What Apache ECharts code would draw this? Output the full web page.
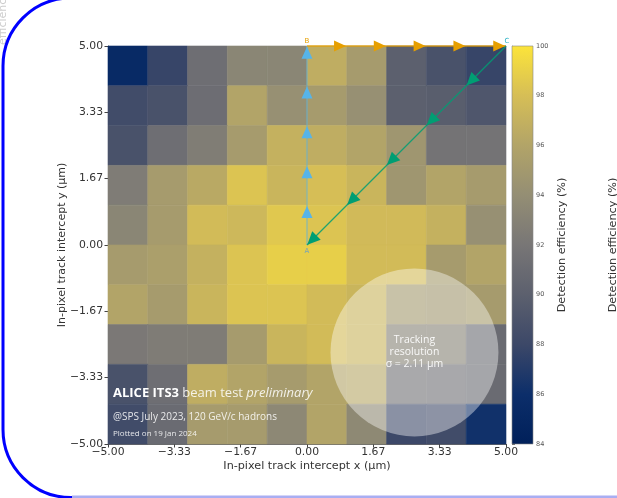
<!DOCTYPE html>
<html><head><meta charset="utf-8">
<script src="https://cdn.jsdelivr.net/npm/echarts@6/dist/echarts.min.js"></script>
<style>html,body{margin:0;padding:0;background:#fff}#c{width:617px;height:498px}</style>
</head><body><div id="c"></div>
<script>
// ---- data ----
const xCenters = [-4.5, -3.5, -2.5, -1.5, -0.5, 0.5, 1.5, 2.5, 3.5, 4.5];
const yCenters = [4.5, 3.5, 2.5, 1.5, 0.5, -0.5, -1.5, -2.5, -3.5, -4.5];
// rows from top (y = 4.5) to bottom (y = -4.5), columns left to right
const efficiency = [
  [85.4, 87.8, 91.3, 93.3, 93.3, 96.7, 95.2, 90.0, 88.8, 87.8],
  [88.3, 88.8, 91.2, 96.0, 94.2, 95.2, 94.2, 90.0, 89.8, 89.2],
  [88.8, 91.3, 92.6, 95.2, 97.0, 96.7, 96.0, 94.7, 91.7, 91.7],
  [92.5, 95.2, 96.4, 98.3, 97.3, 98.0, 97.3, 94.7, 96.0, 95.2],
  [93.3, 95.2, 97.8, 97.5, 98.5, 98.3, 97.7, 97.7, 97.0, 94.2],
  [95.2, 95.5, 97.0, 98.3, 98.9, 98.9, 97.8, 97.8, 95.2, 96.0],
  [96.0, 95.2, 97.3, 98.3, 98.3, 97.8, 97.3, 95.0, 94.8, 95.2],
  [92.2, 92.5, 92.5, 95.2, 97.3, 97.8, 97.3, 93.0, 93.0, 91.0],
  [88.8, 91.3, 96.7, 96.0, 95.2, 96.0, 96.2, 91.5, 91.3, 91.0],
  [88.3, 91.0, 95.2, 95.2, 93.5, 96.0, 93.6, 88.0, 88.3, 86.2]
];
const axisMin = -5, axisMax = 5, axisInterval = 10 / 6;
const effMin = 84, effMax = 100, effInterval = 2;
// colour ramp (cividis-like) sampled at 84, 86, ..., 100
const colorRamp = ['#00205a', '#0c2e6a', '#3c4868', '#5c606e', '#787676', '#948e74', '#b2a468', '#d6be56', '#fce43a'];
const pointA = [0, 0], pointB = [0, 5], pointC = [5, 5];
const arrowStepsAB = [1, 2, 3, 4, 5];   // y of arrow tips on A->B (x = 0)
const arrowStepsBC = [1, 2, 3, 4, 5];   // x of arrow tips on B->C (y = 5)
const arrowStepsCA = [4, 3, 2, 1, 0];   // x = y of arrow tips on C->A
const pointLabels = [['A', 0, 0], ['B', 0, 5], ['C', 5, 5]];
const sigma = 2.11;
const circleCenter = [2.7, -2.7];
const titleX = 'In-pixel track intercept x (μm)';
const titleY = 'In-pixel track intercept y (μm)';
const cbTitle = 'Detection efficiency (%)';

// ---- build ----
const heatData = [];
yCenters.forEach((y, r) => xCenters.forEach((x, c) => heatData.push([x, y, efficiency[r][c]])));
const head = 0.17; // half arrow-head length in data units
const fmt = v => { if (Math.abs(v) < 1e-9) v = 0; return v.toFixed(2).replace('-', '\u2212'); };
const axFont = 'DejaVu Sans';

const chart = echarts.init(document.getElementById('c'), null, {renderer: 'canvas'});
const labelColors = {A: '#78a4b8', B: '#e69f00', C: '#2ab0c4'};
const labelOffsets = {A: [0, 6], B: [0, -5], C: [1, -5]};

chart.setOption({
  animation: false,
  backgroundColor: '#fff',
  grid: [
    {left: 108, top: 46, width: 398, height: 398},
    {left: 512, top: 46, width: 21, height: 398}
  ],
  xAxis: [
    {gridIndex: 0, type: 'value', min: axisMin, max: axisMax, interval: axisInterval,
     splitLine: {show: false},
     axisLine: {show: true, onZero: false, lineStyle: {color: '#444', width: 0.8}},
     axisTick: {show: true, length: 3.5, lineStyle: {color: '#444'}},
     axisLabel: {formatter: fmt, fontSize: 10.8, color: '#333', fontFamily: axFont, margin: 3, showMinLabel: true, showMaxLabel: true}},
    {gridIndex: 1, type: 'value', min: 0, max: 1, show: false}
  ],
  yAxis: [
    {gridIndex: 0, type: 'value', min: axisMin, max: axisMax, interval: axisInterval,
     splitLine: {show: false},
     axisLine: {show: true, onZero: false, lineStyle: {color: '#444', width: 0.8}},
     axisTick: {show: true, length: 3.5, lineStyle: {color: '#444'}},
     axisLabel: {formatter: fmt, fontSize: 10.8, color: '#333', fontFamily: axFont, margin: 5, showMinLabel: true, showMaxLabel: true}},
    {gridIndex: 1, type: 'value', min: effMin, max: effMax, interval: effInterval, position: 'right',
     splitLine: {show: false},
     axisLine: {show: true, lineStyle: {color: '#777', width: 0.6}},
     axisTick: {show: true, length: 3, lineStyle: {color: '#666'}},
     axisLabel: {fontSize: 6.5, color: '#555', fontFamily: axFont, margin: 3}}
  ],
  visualMap: {type: 'continuous', show: false, min: effMin, max: effMax, dimension: 2, seriesIndex: 0,
              inRange: {color: colorRamp}},
  series: [
    {type: 'custom', xAxisIndex: 0, yAxisIndex: 0, data: heatData, encode: {x: 0, y: 1}, z: 2,
     renderItem: (params, api) => {
       const x = api.value(0), y = api.value(1);
       const p0 = api.coord([x - 0.5, y + 0.5]), p1 = api.coord([x + 0.5, y - 0.5]);
       const col = api.visual('color');
       return {type: 'rect', shape: {x: p0[0], y: p0[1], width: p1[0] - p0[0], height: p1[1] - p0[1]},
               style: {fill: col, stroke: col, lineWidth: 0.6}};
     }},
    {type: 'custom', xAxisIndex: 0, yAxisIndex: 0, data: [[circleCenter[0], circleCenter[1], sigma]], z: 3, silent: true,
     encode: {x: 0, y: 1},
     renderItem: (params, api) => {
       const c = api.coord([api.value(0), api.value(1)]);
       const r = api.size([api.value(2), api.value(2)])[0];
       return {type: 'group', children: [
         {type: 'circle', shape: {cx: c[0], cy: c[1], r: r}, style: {fill: 'rgba(255,255,255,0.4)'}},
         {type: 'text', x: c[0], y: c[1], style: {text: 'Tracking\nresolution\n\u03c3 = 2.11 \u03bcm', align: 'center', verticalAlign: 'middle',
           fill: 'rgba(255,255,255,0.92)', fontSize: 10.5, lineHeight: 12, fontFamily: 'Open Sans'}}
       ]};
     }},
    {type: 'line', xAxisIndex: 0, yAxisIndex: 0, data: [pointA, pointB], symbol: 'none', clip: false, z: 4,
     lineStyle: {color: 'rgba(86,180,233,0.6)', width: 1.3}},
    {type: 'line', xAxisIndex: 0, yAxisIndex: 0, data: [pointB, pointC], symbol: 'none', clip: false, z: 4,
     lineStyle: {color: 'rgba(230,159,0,0.8)', width: 1.5}},
    {type: 'line', xAxisIndex: 0, yAxisIndex: 0, data: [pointC, pointA], symbol: 'none', clip: false, z: 4,
     lineStyle: {color: 'rgba(0,158,115,0.85)', width: 1.3}},
    {type: 'scatter', xAxisIndex: 0, yAxisIndex: 0, clip: false, z: 5, symbol: 'triangle', symbolSize: [11, 12], symbolRotate: 0,
     itemStyle: {color: '#56b4e9', opacity: 1}, data: arrowStepsAB.map(k => [pointA[0], k - head])},
    {type: 'scatter', xAxisIndex: 0, yAxisIndex: 0, clip: false, z: 5, symbol: 'triangle', symbolSize: [11, 12], symbolRotate: -90,
     itemStyle: {color: '#e69f00', opacity: 1}, data: arrowStepsBC.map(k => [k - head, pointB[1]])},
    {type: 'scatter', xAxisIndex: 0, yAxisIndex: 0, clip: false, z: 5, symbol: 'triangle', symbolSize: [12, 13], symbolRotate: 135,
     itemStyle: {color: '#009e73', opacity: 1}, data: arrowStepsCA.map(k => [k + head * 0.72, k + head * 0.72])},
    {type: 'custom', xAxisIndex: 0, yAxisIndex: 0, z: 6, silent: true, clip: false,
     data: pointLabels.map(p => [p[1], p[2], p[0]]), encode: {x: 0, y: 1},
     renderItem: (params, api) => {
       const name = pointLabels[params.dataIndex][0];
       const c = api.coord([api.value(0), api.value(1)]);
       const o = labelOffsets[name];
       return {type: 'text', x: c[0] + o[0], y: c[1] + o[1], style: {text: name, align: 'center', verticalAlign: 'middle',
         fill: labelColors[name], fontSize: 7, fontFamily: axFont}};
     }},
    {type: 'custom', xAxisIndex: 1, yAxisIndex: 1, z: 2, silent: true, data: [[0, effMin], [1, effMax]], encode: {x: 0, y: 1},
     renderItem: (params, api) => {
       if (params.dataIndex !== 0) return null;
       const p0 = api.coord([0, effMax]), p1 = api.coord([1, effMin]);
       return {type: 'rect', shape: {x: p0[0], y: p0[1], width: p1[0] - p0[0], height: p1[1] - p0[1]},
         style: {stroke: '#888', lineWidth: 0.6, fill: {type: 'linear', x: 0, y: 1, x2: 0, y2: 0,
           colorStops: colorRamp.map((c, i) => ({offset: i / (colorRamp.length - 1), color: c}))}}};
     }}
  ],
  graphic: [
    {type: 'text', x: 3, y: 45, rotation: Math.PI / 2, z: 1,
     style: {text: 'efficiency (%)', align: 'left', verticalAlign: 'middle', fill: '#cdcdcd', fontSize: 11, fontFamily: axFont}},
    {type: 'text', x: 307, y: 466, z: 10,
     style: {text: titleX, align: 'center', verticalAlign: 'middle', fill: '#333', fontSize: 11.2, fontFamily: axFont}},
    {type: 'text', x: 62, y: 245, rotation: Math.PI / 2, z: 10,
     style: {text: titleY, align: 'center', verticalAlign: 'middle', fill: '#333', fontSize: 11, fontFamily: axFont}},
    {type: 'text', x: 562, y: 245, rotation: Math.PI / 2, z: 10,
     style: {text: cbTitle, align: 'center', verticalAlign: 'middle', fill: '#333', fontSize: 11.2, fontFamily: axFont}},
    {type: 'text', x: 613, y: 245, rotation: Math.PI / 2, z: 10,
     style: {text: cbTitle, align: 'center', verticalAlign: 'middle', fill: '#333', fontSize: 11.2, fontFamily: axFont}},
    {type: 'text', x: 113, y: 393, z: 10,
     style: {text: '{b|ALICE ITS3} {n|beam test} {i|preliminary}', align: 'left', verticalAlign: 'middle',
       rich: {b: {fontWeight: 'bold', fontSize: 13, fill: '#ffffff', fontFamily: 'Open Sans'},
              n: {fontSize: 13, fill: 'rgba(255,255,255,0.85)', fontFamily: 'Open Sans'},
              i: {fontSize: 13, fontStyle: 'italic', fill: 'rgba(255,255,255,0.85)', fontFamily: 'Open Sans'}}}},
    {type: 'text', x: 113, y: 417, z: 10,
     style: {text: '@SPS July 2023, 120 GeV/c hadrons', align: 'left', verticalAlign: 'middle',
       fill: 'rgba(255,255,255,0.85)', fontSize: 10, fontFamily: 'Open Sans'}},
    {type: 'text', x: 113, y: 434, z: 10,
     style: {text: 'Plotted on 19 Jan 2024', align: 'left', verticalAlign: 'middle',
       fill: 'rgba(255,255,255,0.85)', fontSize: 8, fontFamily: 'Open Sans'}},
    {type: 'rect', z: 100, silent: true, shape: {x: 3, y: -2, width: 700, height: 499.5, r: 68},
     style: {fill: 'none', stroke: '#0000ff', lineWidth: 3}},
    {type: 'line', z: 101, silent: true, shape: {x1: 72, y1: 496.8, x2: 617, y2: 496.8},
     style: {stroke: '#a9aef2', lineWidth: 2.4}}
  ]
});
</script></body></html>
